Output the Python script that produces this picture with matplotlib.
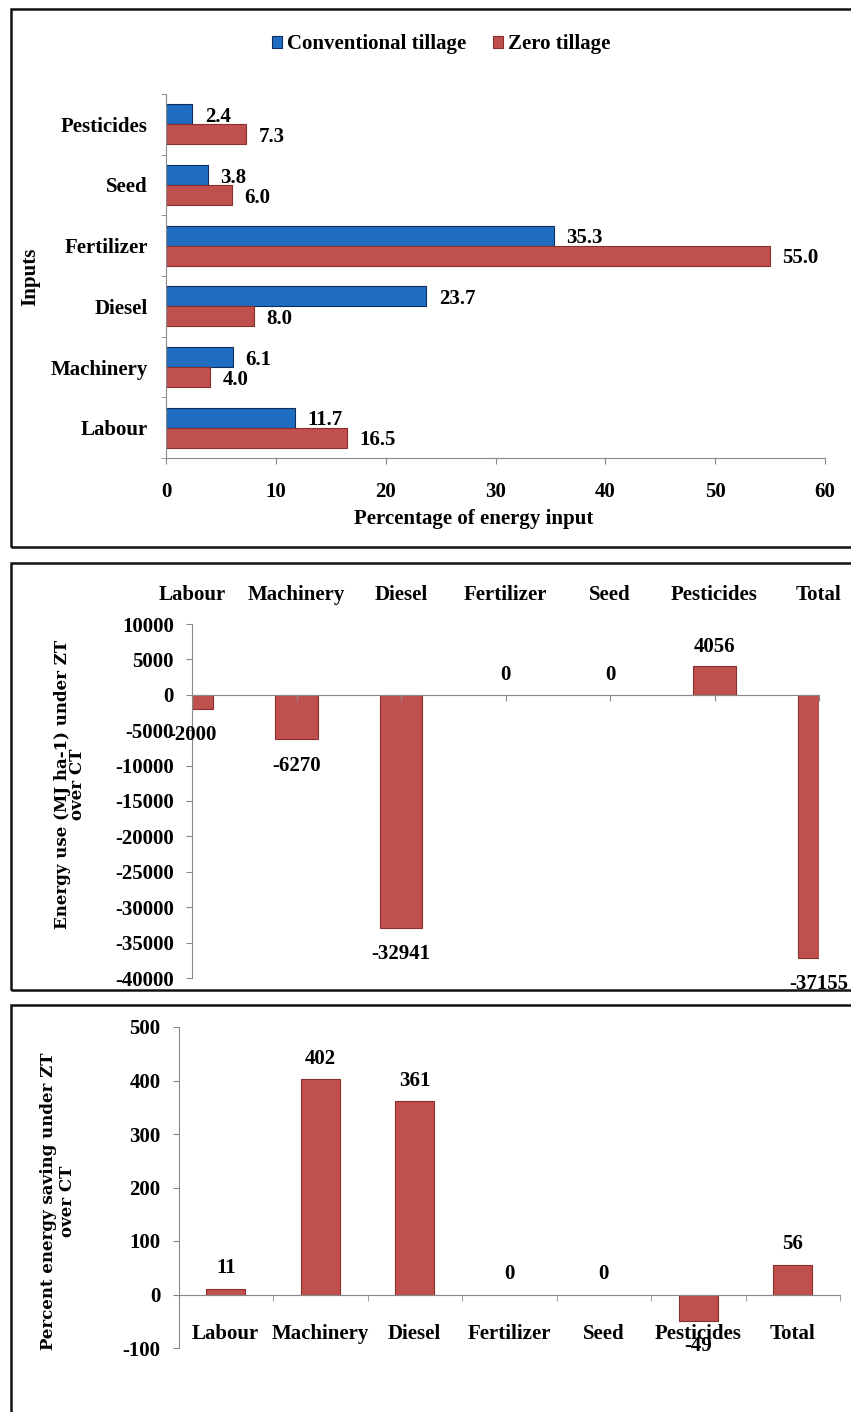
import matplotlib.pyplot as plt
from matplotlib.patches import Rectangle

# top panel: share of energy input (%)
inputs = ["Labour", "Machinery", "Diesel", "Fertilizer", "Seed", "Pesticides"]
ct_share = [11.7, 6.1, 23.7, 35.3, 3.8, 2.4]
zt_share = [16.5, 4.0, 8.0, 55.0, 6.0, 7.3]

# middle and bottom panels
items = ["Labour", "Machinery", "Diesel", "Fertilizer", "Seed", "Pesticides", "Total"]
energy_diff = [-2000, -6270, -32941, 0, 0, 4056, -37155]
saving_pct = [11, 402, 361, 0, 0, -49, 56]

BLUE = "#1f6dc1"
BLUE_EDGE = "#0d2d5c"
RED = "#c0504d"
RED_EDGE = "#8a2f2c"
GREY = "#888888"

plt.rcParams["font.family"] = "Liberation Serif"
plt.rcParams["font.weight"] = "bold"
plt.rcParams["font.size"] = 15
plt.rcParams["axes.unicode_minus"] = False

W, H = 851, 1412
fig = plt.figure(figsize=(W / 100, H / 100), dpi=100)


def box(l, t, r, b):
    return [l / W, 1 - b / H, (r - l) / W, (b - t) / H]


# black frames round each panel (right side runs off the page)
for top, bot in [(9, 547), (563, 990), (1005, 1440)]:
    fig.patches.append(Rectangle((11 / W, 1 - bot / H), 1, (bot - top) / H,
                                 transform=fig.transFigure, fill=False,
                                 lw=1.8, ec="#111111"))

# ---- panel 1 ----
ax1 = fig.add_axes(box(166, 94, 825, 458))
pos = list(range(len(inputs)))
h = 0.33
ax1.barh([p + h / 2 for p in pos], ct_share, height=h, color=BLUE,
         edgecolor=BLUE_EDGE, lw=0.8, label="Conventional tillage")
ax1.barh([p - h / 2 for p in pos], zt_share, height=h, color=RED,
         edgecolor=RED_EDGE, lw=0.8, label="Zero tillage")
for p in pos:
    ax1.annotate(f"{ct_share[p]:.1f}", (ct_share[p], p + h / 2), xytext=(9, -2),
                 textcoords="offset points", ha="left", va="center")
    ax1.annotate(f"{zt_share[p]:.1f}", (zt_share[p], p - h / 2), xytext=(9, -2),
                 textcoords="offset points", ha="left", va="center")
ax1.set_xlim(0, 60)
ax1.set_ylim(-0.5, 5.5)
ax1.set_xticks(range(0, 61, 10))
ax1.set_yticks(pos, inputs)
ax1.set_yticks([p - 0.5 for p in range(7)], minor=True)
ax1.tick_params(axis="y", which="major", length=0, pad=13)
ax1.tick_params(axis="y", which="minor", length=3.5, color=GREY)
ax1.tick_params(axis="x", length=4, color=GREY, pad=13)
for s in ["top", "right"]:
    ax1.spines[s].set_visible(False)
for s in ["left", "bottom"]:
    ax1.spines[s].set_color(GREY)

fig.legend(loc="center", bbox_to_anchor=(441 / W, 1 - 44 / H), ncol=2,
           frameon=False, handlelength=0.5, handleheight=0.5,
           handletextpad=0.2, columnspacing=1.3)
fig.text(474 / W, 1 - 519 / H, "Percentage of energy input", ha="center", va="center")
fig.text(30 / W, 1 - 277 / H, "Inputs", rotation=90, ha="center", va="center")

# ---- panel 2 ----
ax2 = fig.add_axes(box(192, 624, 819, 978))
x = list(range(len(items)))
ax2.bar(x, energy_diff, width=0.41, color=RED, edgecolor=RED_EDGE,
        lw=[0.8 if v else 0 for v in energy_diff])
for i, v in zip(x, energy_diff):
    off = 14 if v >= 0 else -19
    ax2.annotate(f"{v}", (i, v), xytext=(0, off), textcoords="offset points",
                 ha="center", va="center", annotation_clip=False)
ax2.set_xlim(0, 6)
ax2.set_ylim(-40000, 10000)
ax2.set_yticks(range(-40000, 10001, 5000))
ax2.set_xticks(x, items)
ax2.spines["bottom"].set_position(("data", 0))
ax2.tick_params(axis="x", bottom=True, top=False, labelbottom=False,
                labeltop=True, length=4, color=GREY, pad=10)
ax2.tick_params(axis="y", length=4, color=GREY, pad=9)
for s in ["top", "right"]:
    ax2.spines[s].set_visible(False)
for s in ["left", "bottom"]:
    ax2.spines[s].set_color(GREY)
fig.text(70 / W, 1 - 784 / H, "Energy use (MJ ha-1) under ZT\nover CT",
         rotation=90, ha="center", va="center", multialignment="center",
         family="DejaVu Serif", size=12, linespacing=0.9)

# ---- panel 3 ----
ax3 = fig.add_axes(box(178.5, 1027, 840, 1348))
ax3.bar(x, saving_pct, width=0.41, color=RED, edgecolor=RED_EDGE,
        lw=[0.8 if v else 0 for v in saving_pct])
for i, v in zip(x, saving_pct):
    off = 14.5 if v >= 0 else -18
    ax3.annotate(f"{v}", (i, v), xytext=(0, off), textcoords="offset points",
                 ha="center", va="center")
ax3.set_xlim(-0.5, 6.5)
ax3.set_ylim(-100, 500)
ax3.set_yticks(range(-100, 501, 100))
ax3.set_xticks(x, items)
ax3.set_xticks([i - 0.5 for i in range(8)], minor=True)
ax3.spines["bottom"].set_position(("data", 0))
ax3.tick_params(axis="x", which="major", length=0, pad=21)
ax3.tick_params(axis="x", which="minor", length=4.5, color=GREY)
ax3.tick_params(axis="y", length=4, color=GREY, pad=9)
for s in ["top", "right"]:
    ax3.spines[s].set_visible(False)
for s in ["left", "bottom"]:
    ax3.spines[s].set_color(GREY)
fig.text(58 / W, 1 - 1201 / H, "Percent energy saving under ZT\nover CT",
         rotation=90, ha="center", va="center", multialignment="center",
         family="DejaVu Serif", size=12, linespacing=1.1)

fig.savefig("out.png", dpi=100, facecolor="white")
